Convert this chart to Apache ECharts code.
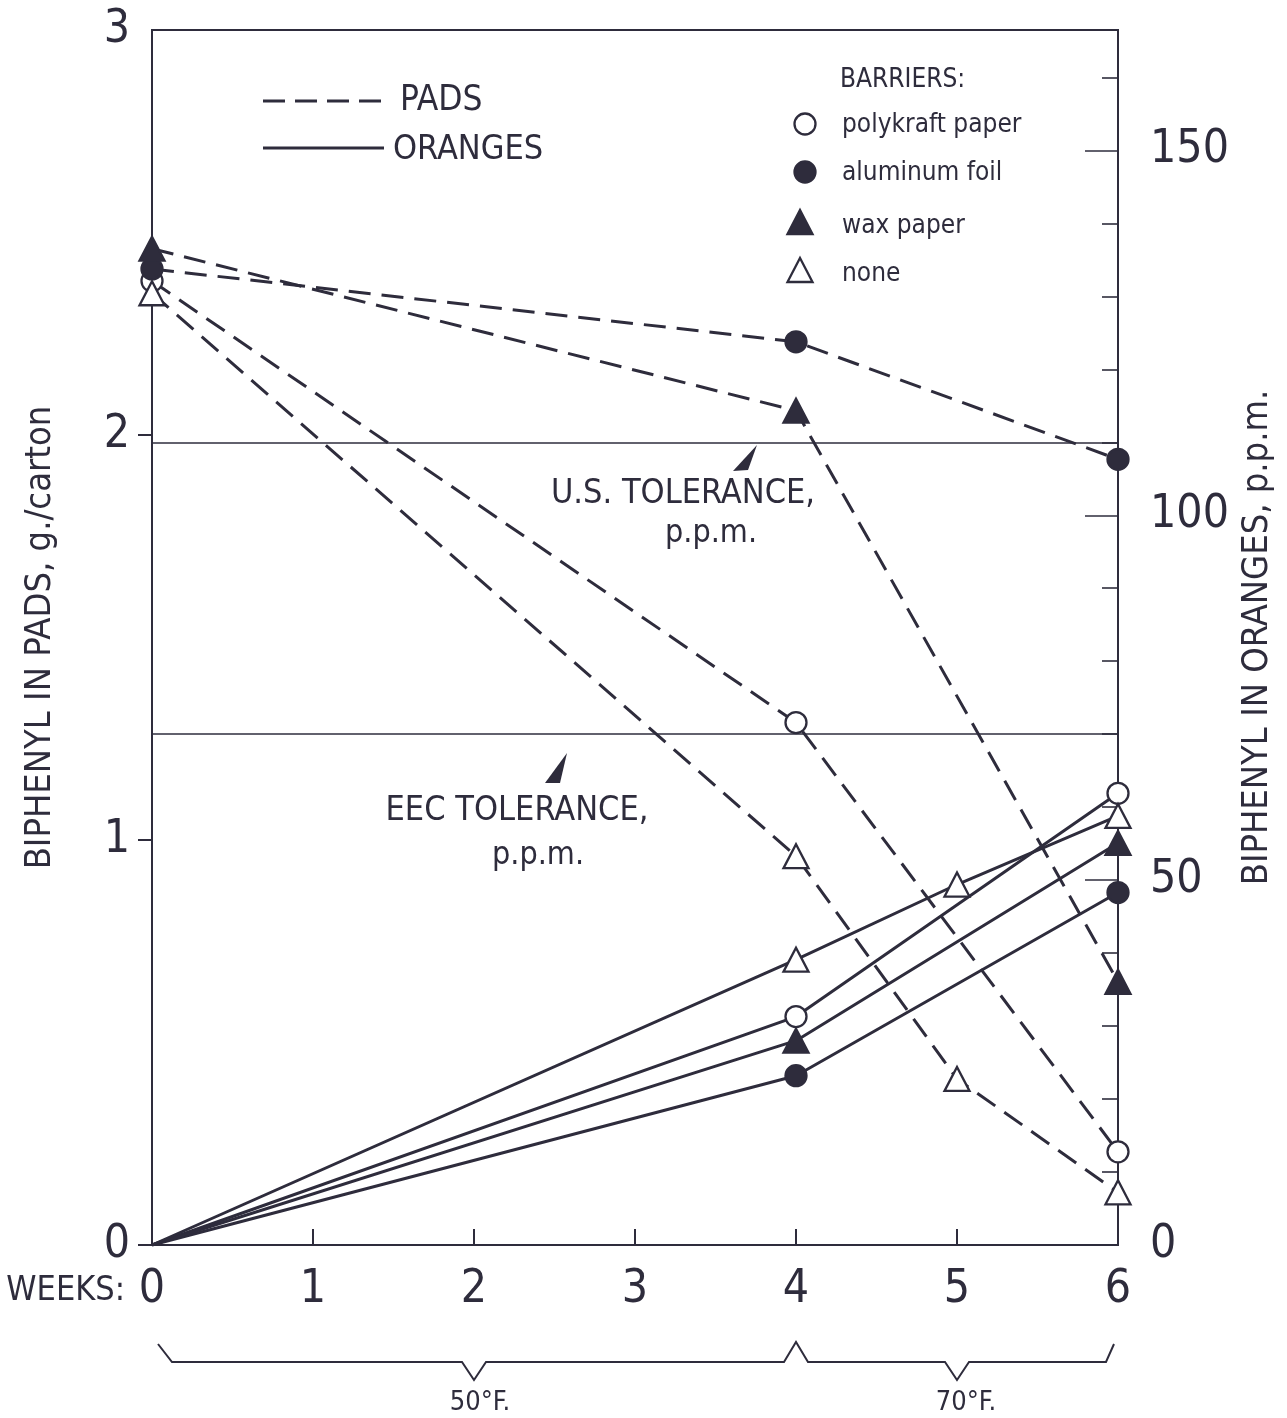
<!DOCTYPE html>
<html>
<head>
<meta charset="utf-8">
<script src="https://cdn.jsdelivr.net/npm/echarts@6/dist/echarts.min.js"></script>
<style>
html,body{margin:0;padding:0;background:#fff;}
#chart{width:1287px;height:1418px;}
</style>
</head>
<body>
<div id="chart"></div>
<script>
// ---------- data ----------
const padWeeks = [0, 4, 6];
const noneWeeks = [0, 4, 5, 6];
const padsPolykraft = [2.38, 1.29, 0.23];
const padsAluminum = [2.41, 2.23, 1.94];
const padsWax = [2.46, 2.06, 0.65];
const padsNone = [2.35, 0.96, 0.41, 0.13];
const orangesPolykraft = [0, 31.3, 61.9];
const orangesAluminum = [0, 23.2, 48.3];
const orangesWax = [0, 28.0, 55.1];
const orangesNone = [0, 39.1, 49.4, 58.8];
const usTolerance = 110;
const eecTolerance = 70;
const weekTicks = [0, 1, 2, 3, 4, 5, 6];
const padTicks = [0, 1, 2, 3];
const ppmLabels = [0, 50, 100, 150];
const ppmMinor = [10, 20, 30, 40, 60, 70, 80, 90, 110, 120, 130, 140, 160];
const barrierNames = ['polykraft paper', 'aluminum foil', 'wax paper', 'none'];

// ---------- style ----------
const FONT = "'Liberation Sans Narrow','DejaVu Sans Condensed','Liberation Sans',sans-serif";
const INK = '#2e2c3c';
const PPM_MAX = 166.5;
const LW = 3;
const markerStyles = [
  { symbol: 'circle', fill: '#fff', size: 21 },
  { symbol: 'circle', fill: INK, size: 21 },
  { symbol: 'triangle', fill: INK, size: [25, 24] },
  { symbol: 'triangle', fill: '#fff', size: [25, 24] }
];

function pairs(xs, ys, skipFirstSymbol) {
  return xs.map((x, i) => {
    const item = { value: [x, ys[i]] };
    if (skipFirstSymbol && i === 0) item.symbol = 'none';
    return item;
  });
}

function makeSeries(name, xs, ys, mi, isPads) {
  const m = markerStyles[mi];
  return {
    name: name,
    type: 'line',
    xAxisIndex: 0,
    yAxisIndex: isPads ? 0 : 1,
    data: pairs(xs, ys, !isPads),
    symbol: m.symbol,
    symbolSize: m.size,
    showAllSymbol: true,
    lineStyle: { color: INK, width: LW, type: isPads ? [22, 11] : 'solid' },
    itemStyle: { color: m.fill, borderColor: INK, borderWidth: 2.3, opacity: 1 },
    z: 3,
    animation: false,
    silent: true
  };
}

const series = [
  makeSeries('pads ' + barrierNames[0], padWeeks, padsPolykraft, 0, true),
  makeSeries('pads ' + barrierNames[1], padWeeks, padsAluminum, 1, true),
  makeSeries('pads ' + barrierNames[2], padWeeks, padsWax, 2, true),
  makeSeries('pads ' + barrierNames[3], noneWeeks, padsNone, 3, true),
  makeSeries('oranges ' + barrierNames[0], padWeeks, orangesPolykraft, 0, false),
  makeSeries('oranges ' + barrierNames[1], padWeeks, orangesAluminum, 1, false),
  makeSeries('oranges ' + barrierNames[2], padWeeks, orangesWax, 2, false),
  makeSeries('oranges ' + barrierNames[3], noneWeeks, orangesNone, 3, false)
];
series[4].markLine = {
  silent: true,
  symbol: ['none', 'none'],
  label: { show: false },
  lineStyle: { color: INK, type: 'solid', width: 1.6 },
  data: [{ yAxis: usTolerance }, { yAxis: eecTolerance }],
  animation: false
};

const chart = echarts.init(document.getElementById('chart'), null, { renderer: 'canvas' });

const axisLineStyle = { color: INK, width: 2 };
chart.setOption({
  backgroundColor: '#fff',
  animation: false,
  grid: { left: 152, right: 169, top: 30, bottom: 173, show: true, borderColor: INK, borderWidth: 2, backgroundColor: 'transparent' },
  xAxis: {
    type: 'value', min: 0, max: 6, interval: 1,
    axisLine: { show: true, lineStyle: axisLineStyle },
    axisTick: { show: true, inside: true, length: 16, lineStyle: axisLineStyle, customValues: weekTicks },
    axisLabel: { fontSize: 46, fontFamily: FONT, color: INK, margin: 22, customValues: weekTicks },
    splitLine: { show: false }
  },
  yAxis: [
    {
      type: 'value', min: 0, max: 3, interval: 1, position: 'left',
      axisLine: { show: true, lineStyle: axisLineStyle },
      axisTick: { show: true, inside: false, length: 14, lineStyle: axisLineStyle, customValues: [0, 1, 2] },
      axisLabel: { fontSize: 46, fontFamily: FONT, color: INK, margin: 22, customValues: padTicks },
      splitLine: { show: false },
      name: 'BIPHENYL IN PADS, g./carton', nameLocation: 'middle', nameRotate: 90, nameGap: 93,
      nameTextStyle: { fontSize: 36, fontFamily: FONT, color: INK }
    },
    {
      type: 'value', min: 0, max: PPM_MAX, interval: 50, position: 'right',
      axisLine: { show: true, lineStyle: axisLineStyle },
      axisTick: { show: true, inside: true, length: 33, lineStyle: { color: INK, width: 1.6 }, customValues: ppmLabels },
      axisLabel: { fontSize: 46, fontFamily: FONT, color: INK, margin: 32, customValues: ppmLabels },
      splitLine: { show: false },
      name: 'BIPHENYL IN ORANGES, p.p.m.', nameLocation: 'middle', nameRotate: 90, nameGap: 119,
      nameTextStyle: { fontSize: 36, fontFamily: FONT, color: INK }
    },
    {
      type: 'value', min: 0, max: PPM_MAX, interval: 10, position: 'right',
      axisLine: { show: false },
      axisTick: { show: true, inside: true, length: 16, lineStyle: { color: INK, width: 1.6 }, customValues: ppmMinor },
      axisLabel: { show: false },
      splitLine: { show: false }
    }
  ],
  series: series
});

// ---------- annotations ----------
function px(week) { return chart.convertToPixel({ xAxisIndex: 0 }, week); }
function txt(text, x, y, size, align) {
  return { type: 'text', silent: true, z: 10,
    style: { text: text, x: x, y: y, fontSize: size, fontFamily: FONT, fill: INK, align: align || 'left', verticalAlign: 'middle' } };
}
const x0 = px(0), x2 = px(2), x4 = px(4), x5 = px(5), x6 = px(6);
const braceY = 1362, braceTop = 1344, braceTip = 1380;
const g = [];
// legend: line styles
g.push({ type: 'line', silent: true, shape: { x1: 263, y1: 101, x2: 386, y2: 101 }, style: { stroke: INK, lineWidth: LW, lineDash: [22, 10] } });
g.push(txt('PADS', 400, 101, 35));
g.push({ type: 'line', silent: true, shape: { x1: 263, y1: 148, x2: 384, y2: 148 }, style: { stroke: INK, lineWidth: LW } });
g.push(txt('ORANGES', 393, 150, 34));
// legend: barriers
g.push(txt('BARRIERS:', 840, 80, 26));
const legY = [124, 172, 222, 270];
const legTxtY = [125, 173, 226, 274];
markerStyles.forEach((m, i) => {
  if (m.symbol === 'circle') {
    g.push({ type: 'circle', silent: true, shape: { cx: 805, cy: legY[i], r: 10.5 }, style: { fill: m.fill, stroke: INK, lineWidth: 2.3 } });
  } else {
    const cx = 800, cy = legY[i];
    g.push({ type: 'polygon', silent: true, shape: { points: [[cx, cy - 12], [cx + 12.5, cy + 12], [cx - 12.5, cy + 12]] }, style: { fill: m.fill, stroke: INK, lineWidth: 2.3 } });
  }
  g.push(txt(barrierNames[i], 842, legTxtY[i], 26));
});
// tolerance annotations
g.push(txt('U.S. TOLERANCE,', 683, 494, 34, 'center'));
g.push(txt('p.p.m.', 711, 534, 32, 'center'));
g.push({ type: 'polygon', silent: true, shape: { points: [[757, 445], [733, 471], [748, 470]] }, style: { fill: INK } });
g.push(txt('EEC TOLERANCE,', 517, 811, 34, 'center'));
g.push(txt('p.p.m.', 538, 856, 32, 'center'));
g.push({ type: 'polygon', silent: true, shape: { points: [[567, 753], [545, 783], [560, 783]] }, style: { fill: INK } });
// x axis caption
g.push(txt('WEEKS:', 125, 1291, 34, 'right'));
// braces
g.push({ type: 'polyline', silent: true, shape: { points: [
  [x0 + 6, braceTop], [x0 + 20, braceY], [x2 - 12, braceY], [x2, braceTip], [x2 + 12, braceY],
  [x4 - 12, braceY], [x4, braceTop - 2], [x4 + 12, braceY], [x5 - 12, braceY], [x5, braceTip],
  [x5 + 12, braceY], [x6 - 12, braceY], [x6 - 4, braceTop]
] }, style: { stroke: INK, lineWidth: 2, fill: null } });
g.push(txt('50°F.', x2 + 6, 1403, 27, 'center'));
g.push(txt('70°F.', x5 + 9, 1403, 27, 'center'));

chart.setOption({ graphic: g });
</script>
</body>
</html>
